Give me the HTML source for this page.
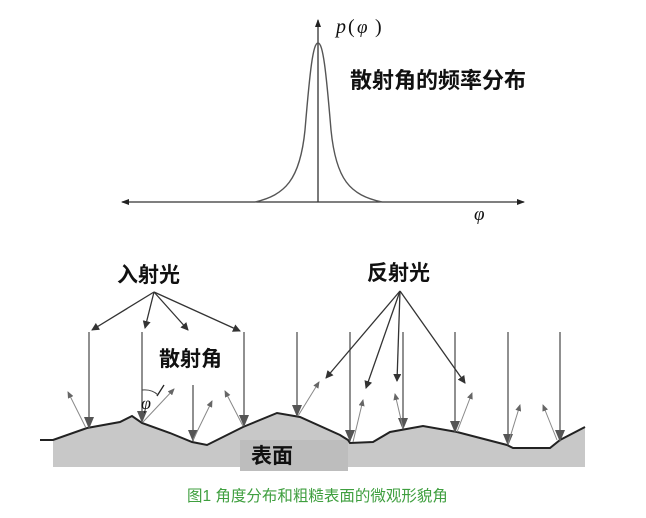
<!DOCTYPE html>
<html><head><meta charset="utf-8"><style>
html,body{margin:0;padding:0;background:#fff;width:646px;height:518px;overflow:hidden}
svg{display:block}
.cjk{font-family:"Liberation Sans","Noto Sans CJK SC",sans-serif;font-weight:bold;fill:#111}
</style></head><body>
<svg width="646" height="518" viewBox="0 0 646 518" xmlns="http://www.w3.org/2000/svg">
<defs>
<marker id="ah" markerWidth="8" markerHeight="8" refX="7" refY="4" orient="auto" markerUnits="userSpaceOnUse"><path d="M0,0 L8,4 L0,8 z" fill="#333"/></marker>
<marker id="ahb" markerWidth="12" markerHeight="10" refX="11" refY="5" orient="auto" markerUnits="userSpaceOnUse"><path d="M0,0 L12,5 L0,10 z" fill="#555"/></marker>
<marker id="ahs" markerWidth="7" markerHeight="6" refX="6" refY="3" orient="auto" markerUnits="userSpaceOnUse"><path d="M0,0 L7,3 L0,6 z" fill="#666"/></marker>
<marker id="ax" markerWidth="8" markerHeight="6" refX="7" refY="3" orient="auto" markerUnits="userSpaceOnUse"><path d="M0,0 L8,3 L0,6 z" fill="#222"/></marker>
</defs>
<line x1="318" y1="202" x2="122" y2="202" stroke="#333" stroke-width="1.3" marker-end="url(#ax)"/>
<line x1="318" y1="202" x2="524" y2="202" stroke="#333" stroke-width="1.3" marker-end="url(#ax)"/>
<line x1="318" y1="202" x2="318" y2="20" stroke="#333" stroke-width="1.3" marker-end="url(#ax)"/>
<path d="M255,202 C285,195 300,180 305,130 C310,70 313,43 318,43 C323,43 326,70 331,130 C336,180 350,195 382,202" fill="none" stroke="#555" stroke-width="1.4"/>
<text x="336" y="33" font-family="Liberation Serif,serif" font-style="italic" font-size="20" fill="#111">p</text>
<text x="348" y="33" font-family="Liberation Serif,serif" font-size="20" fill="#111">(</text>
<text x="357" y="33" font-family="Liberation Serif,serif" font-style="italic" font-size="19" fill="#111">φ</text>
<text x="375" y="33" font-family="Liberation Serif,serif" font-size="20" fill="#111">)</text>
<text x="350" y="88" class="cjk" font-size="22">散射角的频率分布</text>
<text x="474" y="220" font-family="Liberation Serif,serif" font-style="italic" font-size="19" fill="#111">φ</text>
<path d="M53,440 L87,428 L120,422 L132,416 L142,423 L170,433 L192,442 L207,445 L243,427 L277,413 L300,417 L340,435 L348,440 L350,443 L373,442 L390,432 L423,426 L457,432 L507,445 L513,448 L550,448 L560,440 L585,427 L585,467 L53,467 Z" fill="#c8c8c8"/>
<rect x="240" y="440" width="108" height="31" fill="#bdbdbd"/>
<path d="M40,440 L53,440 L87,428 L120,422 L132,416 L142,423 L170,433 L192,442 L207,445 L243,427 L277,413 L300,417 L340,435 L348,440 L350,443 L373,442 L390,432 L423,426 L457,432 L507,445 L513,448 L550,448 L560,440 L585,427" fill="none" stroke="#222" stroke-width="2"/>
<text x="251" y="463" class="cjk" font-size="21">表面</text>
<g stroke="#555" stroke-width="1.3" marker-end="url(#ahb)">
<line x1="89" y1="332" x2="89" y2="428"/>
<line x1="142" y1="332" x2="142" y2="422"/>
<line x1="193" y1="385" x2="193" y2="441"/>
<line x1="244" y1="332" x2="244" y2="426"/>
<line x1="297" y1="332" x2="297" y2="416"/>
<line x1="350" y1="332" x2="350" y2="441"/>
<line x1="403" y1="332" x2="403" y2="429"/>
<line x1="455" y1="332" x2="455" y2="432"/>
<line x1="508" y1="332" x2="508" y2="445"/>
<line x1="560" y1="332" x2="560" y2="441"/>
</g>
<g stroke="#888" stroke-width="1" marker-end="url(#ahs)">
<line x1="86" y1="428" x2="68" y2="392"/>
<line x1="143" y1="422" x2="174" y2="389"/>
<line x1="193" y1="440" x2="212" y2="401"/>
<line x1="243" y1="426" x2="225" y2="391"/>
<line x1="298" y1="416" x2="319" y2="382"/>
<line x1="353" y1="442" x2="363" y2="400"/>
<line x1="403" y1="428" x2="395" y2="394"/>
<line x1="457" y1="432" x2="472" y2="393"/>
<line x1="508" y1="444" x2="520" y2="405"/>
<line x1="557" y1="440" x2="543" y2="405"/>
</g>
<line x1="157" y1="396" x2="164" y2="385" stroke="#222" stroke-width="1.3"/>
<path d="M142,390 Q152,389 158,395" fill="none" stroke="#444" stroke-width="1"/>
<text x="141" y="409" font-family="Liberation Serif,serif" font-style="italic" font-size="18" fill="#111">φ</text>
<text x="117" y="282" class="cjk" font-size="21">入射光</text>
<g stroke="#333" stroke-width="1.3" marker-end="url(#ah)">
<line x1="154" y1="292" x2="92" y2="330"/>
<line x1="154" y1="292" x2="145" y2="328"/>
<line x1="154" y1="292" x2="188" y2="330"/>
<line x1="154" y1="292" x2="240" y2="331"/>
</g>
<text x="159" y="366" class="cjk" font-size="21">散射角</text>
<text x="367" y="280" class="cjk" font-size="21">反射光</text>
<g stroke="#333" stroke-width="1.3" marker-end="url(#ah)">
<line x1="400" y1="291" x2="326" y2="378"/>
<line x1="400" y1="291" x2="366" y2="388"/>
<line x1="400" y1="291" x2="397" y2="381"/>
<line x1="400" y1="291" x2="465" y2="383"/>
</g>
<text x="187" y="501" font-family="Liberation Sans,'Noto Sans CJK SC',sans-serif" font-size="15.5" fill="#3f9f3f">图1 角度分布和粗糙表面的微观形貌角</text>
</svg>
</body></html>
